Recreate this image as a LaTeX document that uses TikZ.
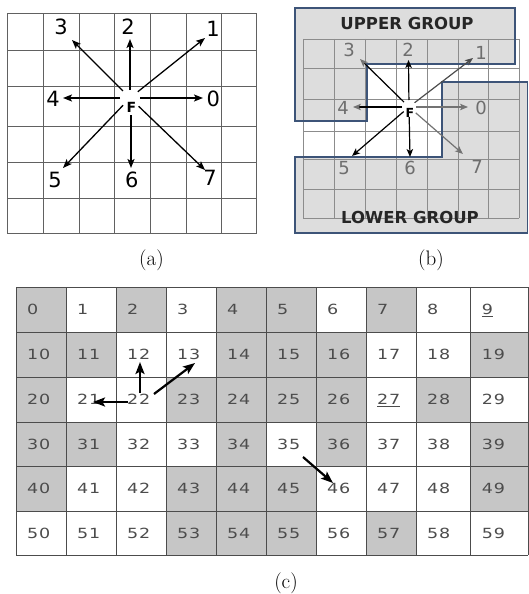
\documentclass[tikz,border=0pt]{standalone}
\usepackage{fontspec}
\newfontfamily\dv{DejaVu Sans}
\newfontfamily\cellfont[FakeStretch=1.25,LetterSpace=6]{DejaVu Sans}
\usetikzlibrary{arrows.meta}
\definecolor{cellgray}{HTML}{C6C6C6}
\definecolor{groupfill}{HTML}{DDDDDD}
\definecolor{groupline}{HTML}{3D5478}
\definecolor{celltextcol}{HTML}{4C4C4C}
\definecolor{labgray}{HTML}{6E6E6E}
\begin{document}
\begin{tikzpicture}[x=1pt,y=-1pt,
  gridA/.style={draw=black!62,line width=0.7pt},
  gridB/.style={draw=black!45,line width=0.5pt},
  gridC/.style={draw=black!70,line width=0.6pt},
  lblA/.style={font=\dv\fontsize{21}{21}\selectfont,inner sep=0pt},
  lblB/.style={font=\dv\fontsize{18}{18}\selectfont,inner sep=0pt,text=labgray},
  fontF/.style={font=\dv\bfseries\fontsize{14}{14}\selectfont,inner sep=0pt},
  grouptext/.style={font=\dv\bfseries\fontsize{16.5}{17}\selectfont,inner sep=0pt,text=black!85},
  caption/.style={font=\fontsize{21}{21}\selectfont,inner sep=0pt},
  celltext/.style={font=\cellfont\fontsize{14}{14}\selectfont,inner sep=0pt,anchor=west,
                   text height=10.2pt,text depth=0pt,text=celltextcol},
  arrowA/.style={-{Stealth[length=9pt,width=7pt,inset=2pt]},line width=1.3pt,shorten <=10pt},
  arrowB/.style={-{Stealth[length=8pt,width=6.5pt,inset=2pt]},line width=1.2pt,shorten <=7pt},
  arrowC/.style={-{Stealth[length=12pt,width=9pt,inset=2.5pt]},line width=2.2pt},
  groupshape/.style={draw=groupline,line width=1.8pt,line join=miter}]
\useasboundingbox (0,0) rectangle (529,594);

% ---------------- panel (a) ----------------
\foreach \x in {7.3,43.3,79,114.7,150.3,186,221.7,256.7}
  \draw[gridA] (\x,13.3) -- (\x,233.3);
\foreach \y in {13.3,50,86,126.7,162.7,198.7,233.3}
  \draw[gridA] (7.3,\y) -- (256.7,\y);

\coordinate (ca) at (130,98);
\coordinate (ta0) at (203,98);
\coordinate (ta1) at (205,38);
\coordinate (ta2) at (130,39);
\coordinate (ta3) at (72,40);
\coordinate (ta4) at (63,98);
\coordinate (ta5) at (63,168);
\coordinate (ta6) at (131,168);
\coordinate (ta7) at (205,170);
\node[fontF] (fa) at (131.5,107) {F};
\draw[arrowA] (ca) -- (ta0);
\draw[arrowA] (ca) -- (ta1);
\draw[arrowA,shorten <=8pt] (ca) -- (ta2);
\draw[arrowA] (ca) -- (ta3);
\draw[arrowA] (ca) -- (ta4);
\draw[arrowA] (ca) -- (ta5);
\draw[arrowA,shorten <=17pt] (131,98) -- (ta6);
\draw[arrowA,shorten <=12pt] (ca) -- (ta7);

\node[lblA] (la0) at (213.3,99.3) {0};
\node[lblA] (la1) at (213,29) {1};
\node[lblA] (la2) at (128,27) {2};
\node[lblA] (la3) at (61,27) {3};
\node[lblA] (la4) at (53,99) {4};
\node[lblA] (la5) at (55,180) {5};
\node[lblA] (la6) at (131.7,180) {6};
\node[lblA] (la7) at (210,178) {7};
\node[caption] (capa) at (151.5,260) {(a)};

% ---------------- panel (b) ----------------
\fill[groupfill] (295,8) -- (515,8) -- (515,64) -- (367,64) -- (367,121) -- (295,121) -- cycle;
\fill[groupfill] (295,157) -- (442,157) -- (442,82) -- (527.5,82) -- (527.5,233) -- (295,233) -- cycle;
\foreach \x in {303,334,365,396,427,458,488,519}
  \draw[gridB] (\x,39) -- (\x,218);
\foreach \y in {39,68,99,131,159,189,218}
  \draw[gridB] (303,\y) -- (519,\y);
\draw[groupshape] (295,8) -- (515,8) -- (515,64) -- (367,64) -- (367,121) -- (295,121) -- cycle;
\draw[groupshape] (295,157) -- (442,157) -- (442,82) -- (527.5,82) -- (527.5,233) -- (295,233) -- cycle;
\node[grouptext] (upper) at (407,23) {UPPER GROUP};
\node[grouptext] (lower) at (410,217) {LOWER GROUP};

\coordinate (cb) at (409,107);
\coordinate (tb0) at (468,107);
\coordinate (tb1) at (473,58);
\coordinate (tb2) at (408.5,60);
\coordinate (tb3) at (360,59);
\coordinate (tb4) at (353,107);
\coordinate (tb5) at (352,156);
\coordinate (tb6) at (410,157);
\coordinate (tb7) at (463,154);
\draw[arrowB,draw=black!55] (cb) -- (tb0);
\draw[arrowB,draw=black!70] (cb) -- (tb1);
\draw[arrowB] (cb) -- (tb2);
\draw[arrowB,-{Stealth[length=8pt,width=6.5pt,inset=2pt,color=black!55]}] (cb) -- (tb3);
\draw[arrowB,-{Stealth[length=8pt,width=6.5pt,inset=2pt,color=black!55]}] (cb) -- (tb4);
\draw[arrowB] (cb) -- (tb5);
\draw[arrowB,shorten <=10pt] (cb) -- (tb6);
\draw[arrowB,draw=black!55,shorten <=9pt] (cb) -- (tb7);
\node[fontF,font=\dv\bfseries\fontsize{12.5}{12.5}\selectfont] (fb) at (410,113) {F};

\node[lblB] (lb0) at (481,108) {0};
\node[lblB] (lb1) at (481,53) {1};
\node[lblB] (lb2) at (408,50) {2};
\node[lblB] (lb3) at (349,50) {3};
\node[lblB] (lb4) at (343,108) {4};
\node[lblB] (lb5) at (344,168) {5};
\node[lblB] (lb6) at (410,168) {6};
\node[lblB] (lb7) at (477,167) {7};
\node[caption] (capb) at (431,260) {(b)};

% ---------------- panel (c) ----------------
\foreach \r in {0,...,5}{
  \foreach \c in {0,...,9}{
    \pgfmathtruncatemacro\n{\r*10+\c}
    \pgfmathsetmacro\xl{{16,66,116,166,216,266,316,366,416,470.7,528}[\c]}
    \pgfmathsetmacro\xr{{16,66,116,166,216,266,316,366,416,470.7,528}[\c+1]}
    \pgfmathsetmacro\yt{{287,332,377,422,466.5,511,555}[\r]}
    \pgfmathsetmacro\yb{{287,332,377,422,466.5,511,555}[\r+1]}
    \pgfmathtruncatemacro\g{{1,0,1,0,1,1,0,1,0,0,
                              1,1,0,0,1,1,1,0,0,1,
                              1,0,0,1,1,1,1,0,1,0,
                              1,1,0,0,1,0,1,0,0,1,
                              1,0,0,1,1,1,0,0,0,1,
                              0,0,0,1,1,1,0,1,0,0}[\n]}
    \ifnum\g=1 \fill[cellgray] (\xl,\yt) rectangle (\xr,\yb); \fi
    \node[celltext] (c\n) at ({\xl+11},{(\yt+\yb)/2})
      {\ifnum\n=9 \underline{9}\else\ifnum\n=27 \underline{27}\else\n\fi\fi};
  }
}
\foreach \x in {16,66,116,166,216,266,316,366,416,470.7,528}
  \draw[gridC] (\x,287) -- (\x,555);
\foreach \y in {287,332,377,422,466.5,511,555}
  \draw[gridC] (16,\y) -- (528,\y);

\coordinate (s21) at (128,402);
\coordinate (e21) at (93,402);
\coordinate (s12) at (140,393);
\coordinate (e12) at (140,362);
\coordinate (s13) at (154,394);
\coordinate (e13) at (195,363);
\coordinate (s46) at (303,457);
\coordinate (e46) at (333,483);
\draw[arrowC] (s21) -- (e21);
\draw[arrowC] (s12) -- (e12);
\draw[arrowC] (s13) -- (e13);
\draw[arrowC] (s46) -- (e46);
\node[caption] (capc) at (286,583) {(c)};
\end{tikzpicture}
\end{document}
